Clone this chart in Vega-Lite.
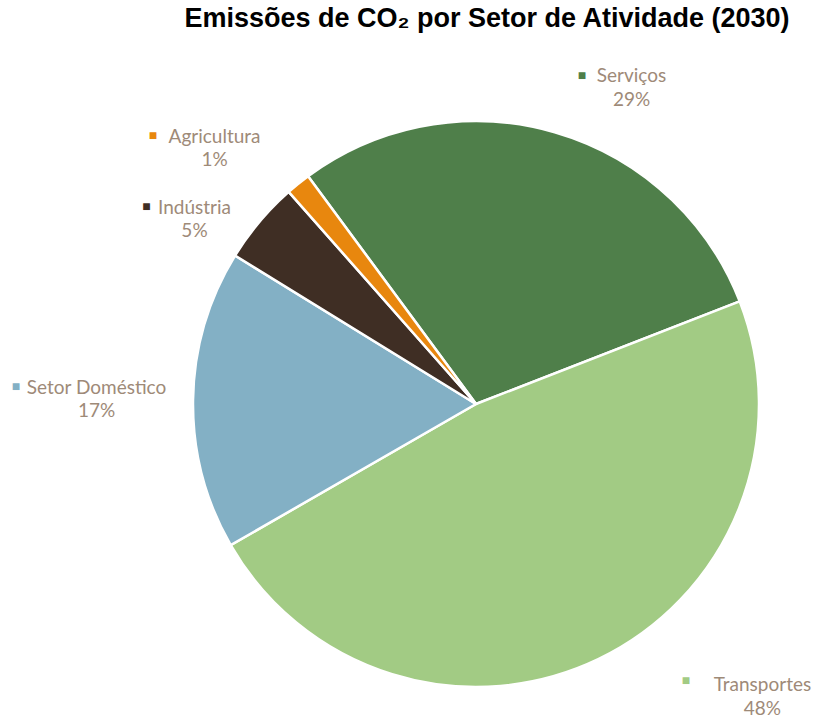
{
  "$schema": "https://vega.github.io/schema/vega-lite/v6.json",
  "width": 682,
  "height": 624,
  "autosize": {"type": "none"},
  "padding": {"top": 92, "left": 135, "right": 0, "bottom": 0},
  "background": "white",
  "title": {
    "text": "Emissões de CO₂ por Setor de Atividade (2030)",
    "font": "Liberation Sans",
    "fontSize": 27,
    "fontWeight": "bold",
    "color": "#000000",
    "anchor": "middle",
    "frame": "group",
    "baseline": "alphabetic",
    "offset": -82,
    "dx": 11
  },
  "data": {
    "values": [
      {"sector": "Serviços", "value": 29.2, "ord": 1},
      {"sector": "Transportes", "value": 47.6, "ord": 2},
      {"sector": "Setor Doméstico", "value": 17.1, "ord": 3},
      {"sector": "Indústria", "value": 4.7, "ord": 4},
      {"sector": "Agricultura", "value": 1.4, "ord": 5}
    ]
  },
  "transform": [
    {"calculate": "datum.sector + '\\n' + format(datum.value, '.0f') + '%'", "as": "label"}
  ],
  "encoding": {
    "theta": {"field": "value", "type": "quantitative", "stack": true, "scale": {"range": [-0.6353, 5.6479]}},
    "order": {"field": "ord", "type": "quantitative"},
    "color": {
      "field": "sector",
      "type": "nominal",
      "scale": {
        "domain": ["Serviços", "Transportes", "Setor Doméstico", "Indústria", "Agricultura"],
        "range": ["#4f7f4a", "#a2cb84", "#83b0c5", "#3f2e24", "#e8870e"]
      },
      "legend": null
    }
  },
  "layer": [
    {"mark": {"type": "arc", "outerRadius": 283, "stroke": "white", "strokeWidth": 2.5}},
    {
      "encoding": {"opacity": {"condition": {"test": "datum.sector === 'Serviços'", "value": 1}, "value": 0}},
      "layer": [
        {"mark": {"type": "text", "radius": 352.6, "thetaOffset": 0.1748, "font": "Lato", "fontSize": 19, "lineBreak": "\n", "lineHeight": 23.5, "align": "center", "baseline": "middle", "dy": -11.5},
         "encoding": {"text": {"field": "label"}, "color": {"value": "#9e8a78"}}},
        {"mark": {"type": "text", "radius": 352.6, "thetaOffset": 0.1748, "fontSize": 14, "align": "center", "baseline": "middle", "dx": -49.5, "dy": -12},
         "encoding": {"text": {"value": "■"}}}
      ]
    },
    {
      "encoding": {"opacity": {"condition": {"test": "datum.sector === 'Transportes'", "value": 1}, "value": 0}},
      "layer": [
        {"mark": {"type": "text", "radius": 409.4, "thetaOffset": -0.328, "font": "Lato", "fontSize": 19, "lineBreak": "\n", "lineHeight": 23.5, "align": "center", "baseline": "middle", "dy": -11.5},
         "encoding": {"text": {"field": "label"}, "color": {"value": "#9e8a78"}}},
        {"mark": {"type": "text", "radius": 409.4, "thetaOffset": -0.328, "fontSize": 14, "align": "center", "baseline": "middle", "dx": -76.5, "dy": -16},
         "encoding": {"text": {"value": "■"}}}
      ]
    },
    {
      "encoding": {"opacity": {"condition": {"test": "datum.sector === 'Setor Doméstico'", "value": 1}, "value": 0}},
      "layer": [
        {"mark": {"type": "text", "radius": 379.5, "thetaOffset": -0.003, "font": "Lato", "fontSize": 19, "lineBreak": "\n", "lineHeight": 23.5, "align": "center", "baseline": "middle", "dy": -11.5},
         "encoding": {"text": {"field": "label"}, "color": {"value": "#9e8a78"}}},
        {"mark": {"type": "text", "radius": 379.5, "thetaOffset": -0.003, "fontSize": 14, "align": "center", "baseline": "middle", "dx": -80.5, "dy": -12},
         "encoding": {"text": {"value": "■"}}}
      ]
    },
    {
      "encoding": {"opacity": {"condition": {"test": "datum.sector === 'Indústria'", "value": 1}, "value": 0}},
      "layer": [
        {"mark": {"type": "text", "radius": 336.6, "thetaOffset": -0.1197, "font": "Lato", "fontSize": 19, "lineBreak": "\n", "lineHeight": 23.5, "align": "center", "baseline": "middle", "dy": -11.5},
         "encoding": {"text": {"field": "label"}, "color": {"value": "#9e8a78"}}},
        {"mark": {"type": "text", "radius": 336.6, "thetaOffset": -0.1197, "fontSize": 14, "align": "center", "baseline": "middle", "dx": -48, "dy": -12},
         "encoding": {"text": {"value": "■"}}}
      ]
    },
    {
      "encoding": {"opacity": {"condition": {"test": "datum.sector === 'Agricultura'", "value": 1}, "value": 0}},
      "layer": [
        {"mark": {"type": "text", "radius": 365.6, "thetaOffset": -0.1176, "font": "Lato", "fontSize": 19, "lineBreak": "\n", "lineHeight": 23.5, "align": "center", "baseline": "middle", "dy": -11.5},
         "encoding": {"text": {"field": "label"}, "color": {"value": "#9e8a78"}}},
        {"mark": {"type": "text", "radius": 365.6, "thetaOffset": -0.1176, "fontSize": 14, "align": "center", "baseline": "middle", "dx": -61.5, "dy": -12},
         "encoding": {"text": {"value": "■"}}}
      ]
    }
  ]
}
